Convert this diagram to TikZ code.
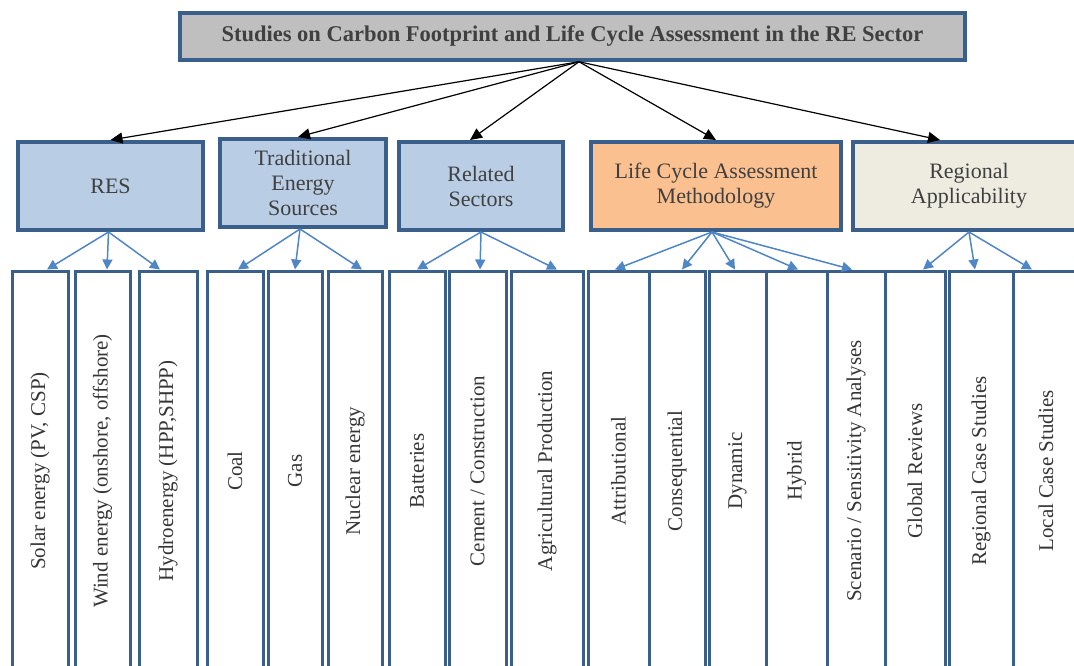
\documentclass[tikz,border=0pt]{standalone}
\usepackage{fontspec}
\setmainfont{Liberation Serif}
\usepackage{tikz}
\usetikzlibrary{positioning,arrows.meta}
\definecolor{frame}{HTML}{3A5F8B}
\definecolor{boxblue}{HTML}{B9CDE5}
\definecolor{boxorange}{HTML}{FAC090}
\definecolor{boxbeige}{HTML}{EEECE1}
\definecolor{boxgray}{HTML}{BFBFBF}
\definecolor{linkblue}{HTML}{4F86C6}
\definecolor{txt}{HTML}{404040}

\begin{document}
\begin{tikzpicture}[x=1pt,y=-1pt,
	head/.style={draw=frame,line width=3.5pt,fill=boxgray,minimum width=785,minimum height=47,font=\fontsize{22.5}{26}\selectfont\bfseries,text=txt},
	cat/.style={draw=frame,line width=4pt,minimum height=88,align=center,font=\fontsize{22}{25}\selectfont,text=txt},
	leaf/.style={draw=frame,line width=3pt,fill=white,minimum height=400,inner sep=0pt,font=\fontsize{21}{24}\selectfont,text=txt!85!black},
	main/.style={black,line width=1.2pt,-{Triangle[length=12pt,width=11pt]}},
	sub/.style={linkblue,line width=1.5pt,-{Triangle[length=10pt,width=10pt]}}]
	\useasboundingbox (0,0) rectangle (1074,666);
	\clip (0,0) rectangle (1074,666);

	\node[leaf,minimum width=56] (solar) at (40,471) {\rotatebox{90}{Solar energy (PV, CSP)}};
	\node[leaf,minimum width=55] (wind) at (102.5,471) {\rotatebox{90}{Wind energy (onshore, offshore)}};
	\node[leaf,minimum width=58] (hydro) at (168,471) {\rotatebox{90}{Hydroenergy (HPP,SHPP)}};
	\node[leaf,minimum width=56] (coal) at (235,471) {\rotatebox{90}{Coal}};
	\node[leaf,minimum width=54] (gas) at (295,471) {\rotatebox{90}{Gas}};
	\node[leaf,minimum width=54] (nuclear) at (355,471) {\rotatebox{90}{Nuclear energy}};
	\node[leaf,minimum width=56] (batt) at (417,471) {\rotatebox{90}{Batteries}};
	\node[leaf,minimum width=57] (cement) at (477.5,471) {\rotatebox{90}{Cement / Construction}};
	\node[leaf,minimum width=72] (agri) at (547,471) {\rotatebox{90}{Agricultural Production}};
	\node[leaf,minimum width=61] (attr) at (618.5,471) {\rotatebox{90}{Attributional}};
	\node[leaf,minimum width=56] (conseq) at (677,471) {\rotatebox{90}{Consequential}};
	\node[leaf,minimum width=57] (dyn) at (737.5,471) {\rotatebox{90}{Dynamic}};
	\node[leaf,minimum width=61] (hyb) at (796.5,471) {\rotatebox{90}{Hybrid}};
	\node[leaf,minimum width=58] (scen) at (856,471) {\rotatebox{90}{Scenario / Sensitivity Analyses}};
	\node[leaf,minimum width=60] (glob) at (915,471) {\rotatebox{90}{Global Reviews}};
	\node[leaf,minimum width=64] (regcase) at (981,471) {\rotatebox{90}{Regional Case Studies}};
	\node[leaf,minimum width=66] (local) at (1046,471) {\rotatebox{90}{Local Case Studies}};

	\node[head] (top) at (572.5,36.5) {Studies on Carbon Footprint and Life Cycle Assessment in the RE Sector};
	\node[cat,fill=boxblue,minimum width=185] (res) at (110.5,186) {RES};
	\node[cat,fill=boxblue,minimum width=166] (trad) at (303,183) {Traditional\\Energy\\Sources};
	\node[cat,fill=boxblue,minimum width=164] (rel) at (481,186) {Related\\Sectors};
	\node[cat,fill=boxorange,minimum width=250] (lca) at (716,186) {Life Cycle Assessment\\Methodology};
	\node[cat,fill=boxbeige,minimum width=232] (reg) at (969,186) {Regional\\Applicability};

	\coordinate (hub) at ([xshift=6.5]top.south);
	\draw[main] (hub) -- (res.north);
	\draw[main] (hub) -- ([xshift=-5]trad.north);
	\draw[main] (hub) -- ([xshift=-11]rel.north);
	\draw[main] (hub) -- (lca.north);
	\draw[main] (hub) -- ([xshift=-29]reg.north);

	\draw[sub] ([xshift=-2]res.south) -- ([xshift=7]solar.north);
	\draw[sub] ([xshift=-2]res.south) -- ([xshift=4.5]wind.north);
	\draw[sub] ([xshift=-2]res.south) -- ([xshift=-8]hydro.north);
	\draw[sub] ([xshift=-3]trad.south) -- ([xshift=3]coal.north);
	\draw[sub] ([xshift=-3]trad.south) -- (gas.north);
	\draw[sub] ([xshift=-3]trad.south) -- ([xshift=7]nuclear.north);
	\draw[sub] (rel.south) -- (batt.north);
	\draw[sub] (rel.south) -- ([xshift=2.5]cement.north);
	\draw[sub] (rel.south) -- ([xshift=10]agri.north);
	\draw[sub] ([xshift=-4]lca.south) -- ([xshift=-3.5]attr.north);
	\draw[sub] ([xshift=-4]lca.south) -- ([xshift=5]conseq.north);
	\draw[sub] ([xshift=-4]lca.south) -- ([xshift=-2.5]dyn.north);
	\draw[sub] ([xshift=-4]lca.south) -- ([xshift=1.5]hyb.north);
	\draw[sub] ([xshift=-4]lca.south) -- ([xshift=-4]scen.north);
	\draw[sub] (reg.south) -- ([xshift=8]glob.north);
	\draw[sub] (reg.south) -- ([xshift=-6]regcase.north);
	\draw[sub] (reg.south) -- ([xshift=-14]local.north);
\end{tikzpicture}
\end{document}
